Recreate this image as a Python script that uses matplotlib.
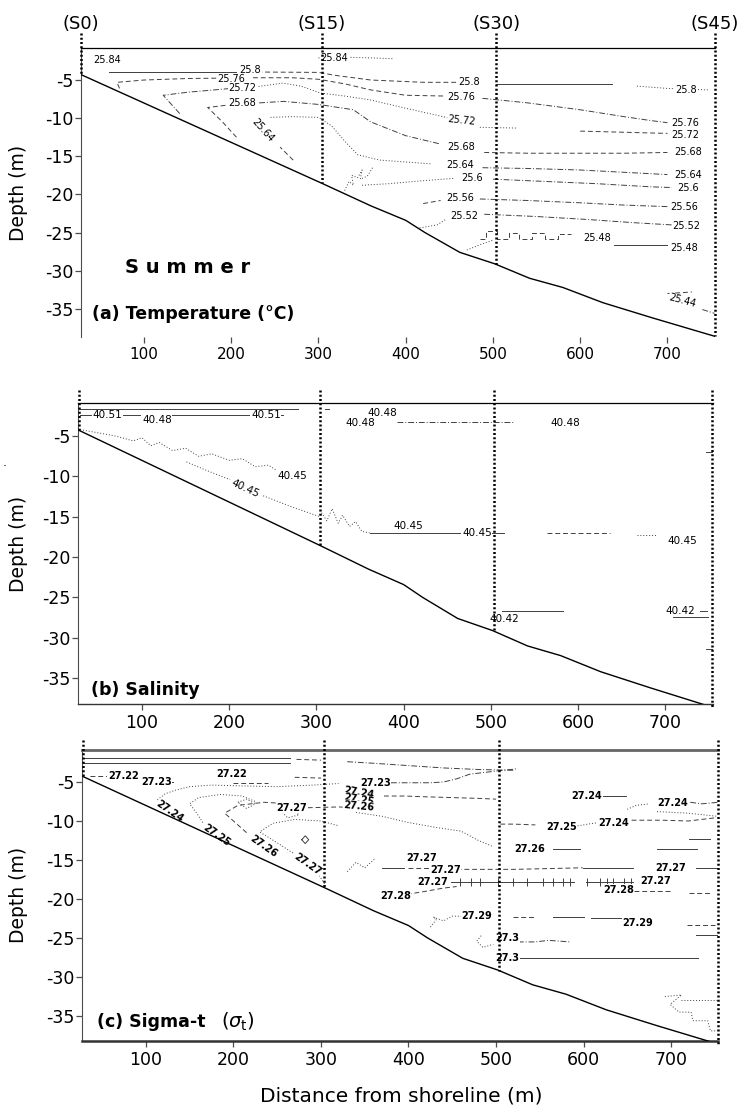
import numpy as np
import matplotlib
matplotlib.use("Agg")
import matplotlib.pyplot as plt
import matplotlib.transforms as mtransforms

plt.rcParams['font.family'] = ['DejaVu Sans']
plt.rcParams['axes.unicode_minus'] = False

# ---------------- data ----------------
stations = ["(S0)", "(S15)", "(S30)", "(S45)"]
station_x = [28, 304, 504, 754]
seabed_x = [28, 305, 360, 400, 422, 462, 502, 542, 580, 626, 683, 754]
seabed_d = [-4.3, -18.6, -21.5, -23.4, -25.0, -27.6, -29.1, -31.0, -32.2, -34.2, -36.2, -38.6]
x_ticks = [100, 200, 300, 400, 500, 600, 700]
y_ticks = [-35, -30, -25, -20, -15, -10, -5]

# isolines: (style, x values, depth values)
temp_lines = [
    ("dot", [300, 330, 360, 385], [-2.1, -2.0, -2.1, -2.2]),
    ("solid", [60, 205], [-3.95, -3.95]),
    ("dash", [230, 300, 320, 360, 420, 460], [-3.95, -4.0, -4.4, -5.0, -5.3, -5.3]),
    ("solid", [504, 637], [-5.5, -5.5]),
    ("dot", [665, 700, 748], [-5.8, -6.1, -6.3]),
    ("dash", [72, 69, 100, 150, 190], [-6.1, -5.3, -5.0, -4.8, -4.75]),
    ("dash", [225, 270, 300, 330, 360, 400, 445], [-4.7, -4.7, -4.9, -5.5, -6.3, -7.0, -7.1]),
    ("dashdot", [488, 540, 600, 650, 680, 700], [-7.4, -8.0, -8.9, -9.8, -10.3, -10.6]),
    ("dashdot", [141, 122, 150, 190, 200], [-9.4, -7.0, -6.6, -6.2, -6.1]),
    ("dot", [228, 259, 280, 302, 330, 359, 400, 435, 450], [-5.9, -5.4, -5.8, -6.7, -7.1, -7.6, -8.7, -9.6, -10.0]),
    ("dot", [485, 527], [-11.2, -11.3]),
    ("dash", [600, 700], [-11.7, -12.0]),
    ("dash", [206, 190, 173, 195], [-12.5, -10.5, -8.6, -8.3]),
    ("dashdot", [232, 260, 300, 340, 360, 400, 440], [-8.0, -7.8, -8.2, -8.9, -10.5, -12.3, -13.4]),
    ("dash", [490, 540, 600, 650, 700], [-14.5, -14.6, -14.6, -14.6, -14.5]),
    ("dash", [271, 256], [-15.5, -13.8]),
    ("dot", [245, 270, 300, 315, 330, 345, 370, 430], [-9.9, -9.8, -9.9, -11.0, -13.0, -14.8, -15.5, -16.0]),
    ("dashdot", [488, 540, 600, 650, 700], [-16.5, -16.6, -16.8, -17.1, -17.4]),
    ("dot", [350, 380, 420, 455], [-18.8, -18.6, -18.2, -17.9]),
    ("dashdot", [500, 560, 620, 680, 705], [-18.0, -18.3, -18.6, -19.0, -19.1]),
    ("dash", [420, 440], [-21.2, -20.8]),
    ("dashdot", [485, 540, 600, 650, 700], [-20.6, -20.8, -21.1, -21.4, -21.6]),
    ("dot", [416, 436, 447], [-24.4, -24.0, -23.2]),
    ("dashdot", [490, 550, 610, 660, 705], [-22.6, -22.9, -23.3, -23.7, -24.0]),
    ("dot", [470, 485, 500], [-27.3, -26.6, -26.0]),
    ("dash", [485, 492, 492, 505, 505, 518, 518, 530, 530, 545, 545, 560, 560, 575, 575, 590],
     [-25.8, -25.8, -24.8, -24.8, -25.9, -25.9, -25.0, -25.0, -25.9, -25.9, -25.1, -25.1, -25.8, -25.8, -25.2, -25.2]),
    ("solid", [639, 699], [-26.7, -26.7]),
    ("dash", [700, 728], [-33.0, -32.8]),
    ("dashdot", [740, 754], [-35.1, -35.6]),
    ("dot", [330, 335, 340, 338, 345, 350, 348, 356, 362], [-19.5, -18.3, -18.8, -17.5, -17.8, -16.8, -18.0, -17.6, -16.5]),
]
temp_labels = [
    ("25.84", 58, -2.4, 0), ("25.84", 318, -2.1, 0),
    ("25.8", 222, -3.75, 0), ("25.76", 200, -4.85, 0),
    ("25.72", 213, -6.1, 0), ("25.68", 213, -8.0, 0), ("25.64", 236, -11.6, -48),
    ("25.8", 473, -5.3, 0), ("25.76", 464, -7.2, 0), ("25.72", 464, -10.3, -6),
    ("25.68", 464, -13.8, 0), ("25.64", 462, -16.2, 0), ("25.6", 476, -17.8, 0),
    ("25.56", 462, -20.5, 0), ("25.52", 467, -22.8, 0), ("25.48", 619, -25.7, 0),
    ("25.8", 721, -6.3, 0), ("25.76", 720, -10.7, 0), ("25.72", 720, -12.2, 0),
    ("25.68", 724, -14.5, 0), ("25.64", 724, -17.5, 0), ("25.6", 724, -19.2, 0),
    ("25.56", 719, -21.7, 0), ("25.52", 722, -24.1, 0), ("25.48", 719, -27.0, 0),
    ("25.44", 717, -34.0, -15),
]

sal_lines = [
    ("solid", [27, 279], [-1.6, -1.6]),
    ("solid", [310, 314], [-1.6, -1.6]),
    ("solid", [29, 262], [-2.4, -2.4]),
    ("dashdot", [392, 440, 490, 526], [-3.3, -3.3, -3.3, -3.3]),
    ("dot", [29, 50, 70, 90, 100, 110, 120, 135, 150, 165, 180, 200, 215, 230, 245, 258],
     [-4.2, -4.6, -5.0, -5.6, -5.2, -6.2, -5.8, -6.8, -6.5, -7.5, -7.2, -8.0, -7.8, -8.8, -8.6, -9.5]),
    ("dot", [151, 175, 201], [-8.2, -9.3, -10.4]),
    ("dot", [239, 270, 304], [-12.4, -13.7, -15.0]),
    ("dot", [304, 312, 318, 325, 330, 338, 345, 352, 361], [-14.2, -15.5, -14.0, -15.8, -14.8, -16.2, -15.6, -16.8, -17.0]),
    ("solid", [361, 470], [-17.0, -17.0]),
    ("solid", [500, 515], [-17.0, -17.0]),
    ("dash", [564, 637], [-17.0, -17.0]),
    ("dot", [668, 691], [-17.3, -17.3]),
    ("solid", [513, 583], [-26.7, -26.7]),
    ("solid", [709, 749], [-27.4, -27.4]),
    ("solid", [740, 748], [-26.7, -26.7]),
    ("solid", [747, 754], [-7.0, -7.0]),
    ("solid", [747, 754], [-31.4, -31.4]),
]
sal_labels = [
    ("40.51", 60, -2.4, 0), ("40.48", 117, -3.0, 0), ("40.51", 242, -2.4, 0),
    ("40.48", 376, -2.1, 0), ("40.48", 350, -3.4, 0), ("40.48", 586, -3.4, 0),
    ("40.45", 272, -9.9, 0), ("40.45", 218, -11.5, -25),
    ("40.45", 405, -16.1, 0), ("40.45", 484, -17.0, 0), ("40.45", 720, -18.0, 0),
    ("40.42", 516, -27.7, 0), ("40.42", 717, -26.7, 0),
]

sig_lines = [
    ("solid", [27, 265], [-1.9, -1.9]),
    ("solid", [27, 265], [-2.6, -2.6]),
    ("dash", [272, 300], [-2.1, -2.2]),
    ("dash", [36, 64], [-4.2, -4.2]),
    ("solid", [118, 131], [-5.0, -5.0]),
    ("dash", [200, 240], [-5.1, -5.1]),
    ("dash", [270, 300], [-4.4, -4.5]),
    ("dot", [113, 122, 135, 150, 175, 210, 250, 290, 320], [-7.3, -6.5, -6.0, -5.6, -5.4, -5.5, -5.6, -5.4, -5.2]),
    ("dot", [165, 158, 150, 160, 185, 210, 225], [-10.2, -9.0, -7.8, -7.0, -6.6, -6.8, -7.5]),
    ("dash", [215, 205, 190, 205, 235, 265, 285], [-11.5, -10.5, -9.0, -8.0, -7.6, -7.8, -8.3]),
    ("dot", [268, 250, 230, 245, 270, 300, 320], [-14.1, -12.8, -11.4, -10.3, -9.8, -10.0, -10.6]),
    ("dot", [298, 305], [-17.0, -18.2]),
    ("dash", [285, 320, 340, 360], [-8.3, -8.2, -8.3, -8.6]),
    ("dot", [205, 215, 225, 215, 205], [-7.6, -7.2, -7.8, -8.4, -7.6]),
    ("dot", [255, 265, 275, 262, 255], [-8.8, -8.5, -9.2, -9.6, -8.8]),
    ("solid", [278, 282, 286, 282, 278], [-12.4, -11.9, -12.4, -12.9, -12.4]),
    ("dashdot", [380, 410, 425, 440, 455, 470, 500, 525], [-5.1, -5.1, -5.1, -5.0, -4.6, -4.0, -3.6, -3.3]),
    ("dashdot", [330, 360, 400, 440, 480, 520], [-2.4, -2.6, -2.9, -3.2, -3.4, -3.5]),
    ("dash", [372, 395, 420, 450, 480, 500], [-6.8, -6.8, -6.9, -7.0, -7.1, -7.2]),
    ("dot", [340, 370, 400, 430, 460, 480, 497], [-8.9, -9.4, -10.2, -10.8, -11.3, -12.5, -13.3]),
    ("dash", [505, 520, 545], [-10.4, -10.4, -10.5]),
    ("dot", [590, 605, 618], [-10.7, -10.4, -10.2]),
    ("dash", [655, 690, 720, 750], [-9.9, -9.9, -10.0, -9.6]),
    ("solid", [617, 648], [-6.8, -6.8]),
    ("dot", [650, 660, 675], [-8.5, -8.0, -7.8]),
    ("dashdot", [722, 735, 754], [-7.6, -7.8, -7.6]),
    ("dot", [684, 720, 753], [-8.8, -9.0, -9.4]),
    ("solid", [565, 596], [-13.6, -13.6]),
    ("solid", [684, 730], [-13.6, -13.6]),
    ("solid", [720, 745], [-12.3, -12.3]),
    ("solid", [370, 395], [-16.0, -16.0]),
    ("dash", [400, 425], [-16.0, -16.0]),
    ("dash", [455, 520, 560, 599], [-16.2, -16.2, -16.1, -16.0]),
    ("solid", [599, 657], [-16.0, -16.0]),
    ("solid", [728, 754], [-16.0, -16.0]),
    ("solid", [449, 589], [-17.8, -17.8]),
    ("solid", [603, 656], [-17.8, -17.8]),
    ("dash", [398, 415, 440, 455], [-19.4, -19.1, -18.6, -18.4]),
    ("dash", [658, 700], [-19.0, -19.0]),
    ("dash", [720, 745], [-19.2, -19.2]),
    ("dot", [425, 432, 428, 440, 450, 462], [-23.6, -22.6, -22.3, -22.8, -22.2, -22.2]),
    ("dash", [520, 545], [-22.3, -22.3]),
    ("solid", [565, 600], [-22.3, -22.3]),
    ("solid", [608, 648], [-22.4, -22.4]),
    ("dash", [718, 750], [-23.3, -23.3]),
    ("solid", [728, 754], [-24.6, -24.6]),
    ("dot", [483, 478, 485, 497], [-24.7, -25.4, -26.2, -25.8]),
    ("dashdot", [525, 545, 560, 585], [-25.5, -25.5, -25.3, -25.5]),
    ("solid", [526, 731], [-27.5, -27.5]),
    ("dot", [693, 712, 699, 709, 723, 725, 742, 745, 753], [-32.5, -32.3, -33.5, -34.5, -34.5, -35.6, -35.6, -36.9, -36.9]),
    ("dot", [711, 753], [-32.9, -32.9]),
    ("dot", [330, 340, 350, 362], [-16.5, -15.3, -16.0, -14.8]),
]
sig_hatch_x = [459, 471, 482, 502, 520, 536, 554, 565, 577, 585, 604, 619, 627, 634, 646, 654]
sig_hatch_d = -17.8
sig_labels = [
    ("27.22", 74, -4.2, 0), ("27.23", 112, -5.0, 0), ("27.22", 198, -4.0, 0),
    ("27.24", 127, -8.8, -35), ("27.25", 181, -11.8, -35), ("27.26", 234, -13.3, -35),
    ("27.27", 285, -15.6, -35), ("27.27", 267, -8.3, 0),
    ("27.24", 343, -6.4, -10), ("27.25", 343, -7.3, -10), ("27.26", 343, -8.1, -5),
    ("27.23", 362, -5.1, 0),
    ("27.24", 604, -6.8, 0), ("27.24", 702, -7.7, 0), ("27.24", 634, -10.3, 0),
    ("27.25", 575, -10.8, 0), ("27.26", 539, -13.6, 0),
    ("27.27", 415, -14.8, 0), ("27.27", 442, -16.3, 0), ("27.27", 428, -17.8, 0),
    ("27.27", 699, -16.0, 0), ("27.27", 682, -17.7, 0),
    ("27.28", 385, -19.6, 0), ("27.28", 640, -18.8, 0),
    ("27.29", 478, -22.2, 0), ("27.29", 662, -23.1, 0),
    ("27.3", 513, -25.0, 0), ("27.3", 513, -27.6, 0),
]

STY = {"solid": "-", "dash": (0, (5, 3)), "dot": (0, (1, 2)),
       "dashdot": (0, (6, 2, 1, 2))}

W, H = 739, 1106
fig = plt.figure(figsize=(W / 100, H / 100), dpi=100)


def add_axes(px_left, px_right, px_top, px_bottom):
    return fig.add_axes([px_left / W, 1 - px_bottom / H,
                         (px_right - px_left) / W, (px_bottom - px_top) / H])


def draw_panel(ax, lines, labels, xlim, ylim, top_ext, lab_fs, lab_weight,
               xtick_fs, bottom_spine, bottom_lw):
    ax.set_xlim(*xlim)
    ax.set_ylim(*ylim)
    for sty, xs, ds in lines:
        ax.plot(xs, ds, color="0.25", lw=0.7, linestyle=STY[sty], zorder=2)
    for t, x, d, r in labels:
        ax.text(x, d, t, rotation=r, ha="center", va="center", fontsize=lab_fs,
                fontweight=lab_weight, zorder=3,
                bbox=dict(boxstyle="square,pad=0.05", fc="white", ec="none"))
    ax.plot(seabed_x, seabed_d, color="black", lw=1.0, zorder=4)
    sb = np.interp(station_x, seabed_x, seabed_d)
    for sx, sd in zip(station_x, sb):
        ax.plot([sx, sx], [top_ext, sd], color="black", lw=1.8,
                linestyle=(0, (0.8, 0.9)), clip_on=False, zorder=5)
    ax.set_xticks(x_ticks)
    ax.set_yticks(y_ticks)
    ax.tick_params(axis="y", direction="out", length=4, width=0.9,
                   labelsize=12.5, pad=1.5, color="0.3")
    ax.tick_params(axis="x", direction="out", length=4.5, width=0.9,
                   labelsize=xtick_fs, pad=3, color="0.3")
    ax.spines["right"].set_visible(False)
    ax.spines["left"].set_color("0.3")
    ax.spines["top"].set_color("black")
    ax.spines["top"].set_linewidth(0.9)
    ax.spines["bottom"].set_visible(bottom_spine)
    ax.spines["bottom"].set_linewidth(bottom_lw)
    ax.spines["bottom"].set_color("0.2")


# (a) temperature
axa = add_axes(81, 715, 48, 337)
draw_panel(axa, temp_lines, temp_labels, (27.8, 754.5), (-38.7, -0.8), 1.2,
           7, "normal", 11, False, 0.9)
trans = mtransforms.blended_transform_factory(axa.transData, axa.transAxes)
for s, sx in zip(stations, station_x):
    axa.text(sx, 1.083, s, transform=trans, ha="center", va="center", fontsize=13)
axa.text(78, -29.6, "S u m m e r", fontsize=14, fontweight="bold",
         ha="left", va="center")
axa.text(40, -35.7, "(a) Temperature (°C)", fontsize=12.5, fontweight="bold",
         ha="left", va="center")

# (b) salinity
axb = add_axes(78, 713, 403, 704)
draw_panel(axb, sal_lines, sal_labels, (26.6, 754.8), (-38.2, -0.9), 0.7,
           7.5, "normal", 12.5, True, 1.0)
axb.text(42, -36.5, "(b) Salinity", fontsize=12.5, fontweight="bold",
         ha="left", va="center")

# (c) sigma-t
axc = add_axes(82, 718, 750, 1041)
draw_panel(axc, sig_lines, sig_labels, (26.9, 753.7), (-38.2, -0.9), 0.4,
           7, "bold", 12.5, True, 1.8)
axc.plot(sig_hatch_x, [sig_hatch_d] * len(sig_hatch_x), linestyle="none",
         marker="|", markersize=6, mew=0.7, color="0.25", zorder=2)
axc.spines["top"].set_linewidth(2.0)
axc.spines["top"].set_color("0.4")
axc.text(44, -35.8, "(c) Sigma-t", fontsize=12.5, fontweight="bold",
         ha="left", va="center")
axc.text(186, -35.8, r"($\sigma_{\mathrm{t}}$)", fontsize=14,
         ha="left", va="center")

for yc in (0.826, 0.508, 0.191):
    fig.text(19 / W, yc, "Depth (m)", rotation=90, ha="center", va="center",
             fontsize=13.5)
fig.text(401 / W, 1 - 1096 / H, "Distance from shoreline (m)", ha="center",
         va="center", fontsize=14.5)
fig.text(5 / W, 1 - 463 / H, ".", ha="center", va="center", fontsize=9)

fig.savefig("out.png", dpi=100)
